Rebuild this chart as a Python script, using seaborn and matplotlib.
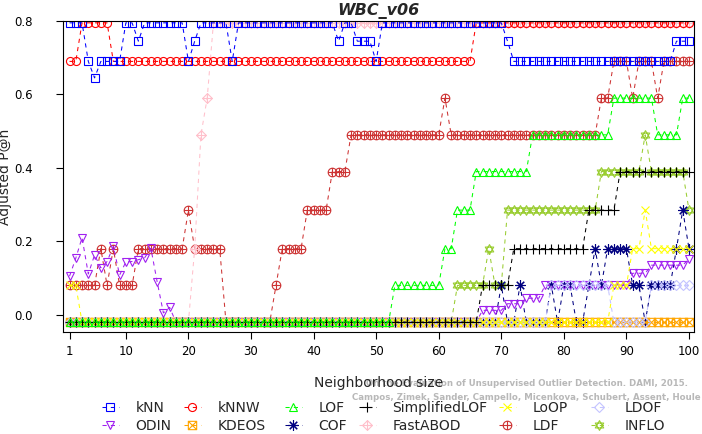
import matplotlib
matplotlib.use("Agg")
import matplotlib.pyplot as plt
from matplotlib.path import Path
import pandas as pd
import seaborn as sns

# neighborhood size k = 1..100
k = list(range(1, 101))

knn = [0.795, 0.795, 0.795, 0.69, 0.645, 0.69, 0.69, 0.69, 0.69, 0.795,
       0.795, 0.745, 0.795, 0.795, 0.795, 0.795, 0.795, 0.795, 0.795, 0.69,
       0.745, 0.795, 0.795, 0.795, 0.795, 0.795, 0.69, 0.795, 0.795, 0.795,
       0.795, 0.795, 0.795, 0.795, 0.795, 0.795, 0.795, 0.795, 0.795, 0.795,
       0.795, 0.795, 0.795, 0.745, 0.795, 0.795, 0.745, 0.745, 0.745, 0.69,
       0.795, 0.795, 0.795, 0.795, 0.795, 0.795, 0.795, 0.795, 0.795, 0.795,
       0.795, 0.795, 0.795, 0.795, 0.795, 0.795, 0.795, 0.795, 0.795, 0.795,
       0.745, 0.69, 0.69, 0.69, 0.69, 0.69, 0.69, 0.69, 0.69, 0.69,
       0.69, 0.69, 0.69, 0.69, 0.69, 0.69, 0.69, 0.69, 0.69, 0.69,
       0.69, 0.69, 0.69, 0.69, 0.69, 0.69, 0.69, 0.745, 0.745, 0.745]

knnw = [0.69, 0.69, 0.795, 0.795, 0.795, 0.795, 0.795, 0.69, 0.69, 0.69,
        0.69, 0.69, 0.69, 0.69, 0.69, 0.69, 0.69, 0.69, 0.69, 0.69,
        0.69, 0.69, 0.69, 0.69, 0.69, 0.69, 0.69, 0.69, 0.69, 0.69,
        0.69, 0.69, 0.69, 0.69, 0.69, 0.69, 0.69, 0.69, 0.69, 0.69,
        0.69, 0.69, 0.69, 0.69, 0.69, 0.69, 0.69, 0.69, 0.69, 0.69,
        0.69, 0.69, 0.69, 0.69, 0.69, 0.69, 0.69, 0.69, 0.69, 0.69,
        0.69, 0.69, 0.69, 0.69, 0.69, 0.795, 0.795, 0.795, 0.795, 0.795,
        0.795, 0.795, 0.795, 0.795, 0.795, 0.795, 0.795, 0.795, 0.795, 0.795,
        0.795, 0.795, 0.795, 0.795, 0.795, 0.795, 0.795, 0.795, 0.795, 0.795,
        0.795, 0.795, 0.795, 0.795, 0.795, 0.795, 0.795, 0.795, 0.795, 0.795]

lof = [-0.02, -0.02, -0.02, -0.02, -0.02, -0.02, -0.02, -0.02, -0.02, -0.02,
       -0.02, -0.02, -0.02, -0.02, -0.02, -0.02, -0.02, -0.02, -0.02, -0.02,
       -0.02, -0.02, -0.02, -0.02, -0.02, -0.02, -0.02, -0.02, -0.02, -0.02,
       -0.02, -0.02, -0.02, -0.02, -0.02, -0.02, -0.02, -0.02, -0.02, -0.02,
       -0.02, -0.02, -0.02, -0.02, -0.02, -0.02, -0.02, -0.02, -0.02, -0.02,
       -0.02, -0.02, 0.08, 0.08, 0.08, 0.08, 0.08, 0.08, 0.08, 0.08,
       0.18, 0.18, 0.285, 0.285, 0.285, 0.39, 0.39, 0.39, 0.39, 0.39,
       0.39, 0.39, 0.39, 0.39, 0.49, 0.49, 0.49, 0.49, 0.49, 0.49,
       0.49, 0.49, 0.49, 0.49, 0.49, 0.49, 0.49, 0.59, 0.59, 0.59,
       0.59, 0.59, 0.59, 0.59, 0.49, 0.49, 0.49, 0.49, 0.59, 0.59]

simplified_lof = [-0.02, -0.02, -0.02, -0.02, -0.02, -0.02, -0.02, -0.02, -0.02, -0.02,
                  -0.02, -0.02, -0.02, -0.02, -0.02, -0.02, -0.02, -0.02, -0.02, -0.02,
                  -0.02, -0.02, -0.02, -0.02, -0.02, -0.02, -0.02, -0.02, -0.02, -0.02,
                  -0.02, -0.02, -0.02, -0.02, -0.02, -0.02, -0.02, -0.02, -0.02, -0.02,
                  -0.02, -0.02, -0.02, -0.02, -0.02, -0.02, -0.02, -0.02, -0.02, -0.02,
                  -0.02, -0.02, -0.02, -0.02, -0.02, -0.02, -0.02, -0.02, -0.02, -0.02,
                  -0.02, -0.02, -0.02, -0.02, -0.02, -0.02, 0.08, 0.08, 0.08, 0.08,
                  0.08, 0.18, 0.18, 0.18, 0.18, 0.18, 0.18, 0.18, 0.18, 0.18,
                  0.18, 0.18, 0.18, 0.285, 0.285, 0.285, 0.285, 0.285, 0.39, 0.39,
                  0.39, 0.39, 0.39, 0.39, 0.39, 0.39, 0.39, 0.39, 0.39, 0.39]

loop = [0.08, 0.08, -0.02, -0.02, -0.02, -0.02, -0.02, -0.02, -0.02, -0.02,
        -0.02, -0.02, -0.02, -0.02, -0.02, -0.02, -0.02, -0.02, -0.02, -0.02,
        -0.02, -0.02, -0.02, -0.02, -0.02, -0.02, -0.02, -0.02, -0.02, -0.02,
        -0.02, -0.02, -0.02, -0.02, -0.02, -0.02, -0.02, -0.02, -0.02, -0.02,
        -0.02, -0.02, -0.02, -0.02, -0.02, -0.02, -0.02, -0.02, -0.02, -0.02,
        -0.02, -0.02, -0.02, -0.02, -0.02, -0.02, -0.02, -0.02, -0.02, -0.02,
        -0.02, -0.02, -0.02, -0.02, -0.02, -0.02, -0.02, -0.02, -0.02, -0.02,
        -0.02, -0.02, -0.02, -0.02, -0.02, -0.02, -0.02, -0.02, -0.02, -0.02,
        -0.02, -0.02, -0.02, -0.02, -0.02, -0.02, -0.02, 0.08, 0.08, 0.08,
        0.18, 0.18, 0.285, 0.18, 0.18, 0.18, 0.18, 0.18, 0.18, 0.18]

ldof = [-0.02, -0.02, -0.02, -0.02, -0.02, -0.02, -0.02, -0.02, -0.02, -0.02,
        -0.02, -0.02, -0.02, -0.02, -0.02, -0.02, -0.02, -0.02, -0.02, -0.02,
        -0.02, -0.02, -0.02, -0.02, -0.02, -0.02, -0.02, -0.02, -0.02, -0.02,
        -0.02, -0.02, -0.02, -0.02, -0.02, -0.02, -0.02, -0.02, -0.02, -0.02,
        -0.02, -0.02, -0.02, -0.02, -0.02, -0.02, -0.02, -0.02, -0.02, -0.02,
        -0.02, -0.02, -0.02, -0.02, -0.02, -0.02, -0.02, -0.02, -0.02, -0.02,
        -0.02, -0.02, -0.02, -0.02, -0.02, -0.02, -0.02, -0.02, -0.02, -0.02,
        -0.02, -0.02, -0.02, -0.02, -0.02, -0.02, -0.02, 0.08, 0.08, 0.08,
        0.08, 0.08, 0.08, 0.08, 0.08, 0.08, 0.08, -0.02, -0.02, -0.02,
        -0.02, -0.02, -0.02, 0.08, 0.08, 0.08, 0.08, 0.08, 0.08, 0.08]

odin = [0.105, 0.154, 0.21, 0.111, 0.163, 0.128, 0.145, 0.186, 0.108, 0.144,
        0.145, 0.15, 0.155, 0.181, 0.09, 0.005, 0.02, -0.02, -0.02, -0.02,
        -0.02, -0.02, -0.02, -0.02, -0.02, -0.02, -0.02, -0.02, -0.02, -0.02,
        -0.02, -0.02, -0.02, -0.02, -0.02, -0.02, -0.02, -0.02, -0.02, -0.02,
        -0.02, -0.02, -0.02, -0.02, -0.02, -0.02, -0.02, -0.02, -0.02, -0.02,
        -0.02, -0.02, -0.02, -0.02, -0.02, -0.02, -0.02, -0.02, -0.02, -0.02,
        -0.02, -0.02, -0.02, -0.02, -0.02, -0.02, 0.012, 0.012, 0.012, 0.012,
        0.03, 0.03, 0.03, 0.045, 0.045, 0.045, 0.08, 0.08, 0.08, 0.08,
        0.08, 0.08, 0.08, 0.08, 0.08, 0.08, 0.08, 0.08, 0.08, 0.08,
        0.113, 0.113, 0.113, 0.135, 0.135, 0.135, 0.135, 0.135, 0.135, 0.152]

kdeos = [-0.02, -0.02, -0.02, -0.02, -0.02, -0.02, -0.02, -0.02, -0.02, -0.02,
         -0.02, -0.02, -0.02, -0.02, -0.02, -0.02, -0.02, -0.02, -0.02, -0.02,
         -0.02, -0.02, -0.02, -0.02, -0.02, -0.02, -0.02, -0.02, -0.02, -0.02,
         -0.02, -0.02, -0.02, -0.02, -0.02, -0.02, -0.02, -0.02, -0.02, -0.02,
         -0.02, -0.02, -0.02, -0.02, -0.02, -0.02, -0.02, -0.02, -0.02, -0.02,
         -0.02, -0.02, -0.02, -0.02, -0.02, -0.02, -0.02, -0.02, -0.02, -0.02,
         -0.02, -0.02, -0.02, -0.02, -0.02, -0.02, -0.02, -0.02, -0.02, -0.02,
         -0.02, -0.02, -0.02, -0.02, -0.02, -0.02, -0.02, -0.02, -0.02, -0.02,
         -0.02, -0.02, -0.02, -0.02, -0.02, -0.02, -0.02, -0.02, -0.02, -0.02,
         -0.02, -0.02, -0.02, -0.02, -0.02, -0.02, -0.02, -0.02, -0.02, -0.02]

cof = [-0.02, -0.02, -0.02, -0.02, -0.02, -0.02, -0.02, -0.02, -0.02, -0.02,
       -0.02, -0.02, -0.02, -0.02, -0.02, -0.02, -0.02, -0.02, -0.02, -0.02,
       -0.02, -0.02, -0.02, -0.02, -0.02, -0.02, -0.02, -0.02, -0.02, -0.02,
       -0.02, -0.02, -0.02, -0.02, -0.02, -0.02, -0.02, -0.02, -0.02, -0.02,
       -0.02, -0.02, -0.02, -0.02, -0.02, -0.02, -0.02, -0.02, -0.02, -0.02,
       -0.02, -0.02, -0.02, -0.02, -0.02, -0.02, -0.02, -0.02, -0.02, -0.02,
       -0.02, -0.02, -0.02, -0.02, -0.02, -0.02, -0.02, -0.02, -0.02, 0.08,
       -0.02, -0.02, 0.08, -0.02, -0.02, -0.02, -0.02, 0.08, -0.02, 0.08,
       0.08, -0.02, -0.02, 0.08, 0.18, 0.08, 0.18, 0.18, 0.18, 0.18,
       0.08, 0.08, -0.02, 0.08, 0.08, 0.08, 0.08, 0.18, 0.285, 0.18]

fastabod = [-0.02, -0.02, -0.02, -0.02, -0.02, -0.02, -0.02, -0.02, -0.02, -0.02,
            -0.02, -0.02, -0.02, -0.02, -0.02, -0.02, -0.02, -0.02, -0.02, -0.02,
            0.18, 0.49, 0.59, 0.795, 0.795, 0.795, 0.795, 0.795, 0.795, 0.795,
            0.795, 0.795, 0.795, 0.795, 0.795, 0.795, 0.795, 0.795, 0.795, 0.795,
            0.795, 0.795, 0.795, 0.795, 0.795, 0.795, 0.795, 0.795, 0.795, 0.795,
            0.795, 0.795, 0.795, 0.795, 0.795, 0.795, 0.795, 0.795, 0.795, 0.795,
            0.795, 0.795, 0.795, 0.795, 0.795, 0.795, 0.795, 0.795, 0.795, 0.795,
            0.795, 0.795, 0.795, 0.795, 0.795, 0.795, 0.795, 0.795, 0.795, 0.795,
            0.795, 0.795, 0.795, 0.795, 0.795, 0.795, 0.795, 0.795, 0.795, 0.795,
            0.795, 0.795, 0.795, 0.795, 0.795, 0.795, 0.795, 0.795, 0.795, 0.795]

ldf = [0.08, 0.08, 0.08, 0.08, 0.08, 0.18, 0.08, 0.18, 0.08, 0.08,
       0.08, 0.18, 0.18, 0.18, 0.18, 0.18, 0.18, 0.18, 0.18, 0.285,
       0.18, 0.18, 0.18, 0.18, 0.18, -0.02, -0.02, -0.02, -0.02, -0.02,
       -0.02, -0.02, -0.02, 0.08, 0.18, 0.18, 0.18, 0.18, 0.285, 0.285,
       0.285, 0.285, 0.39, 0.39, 0.39, 0.49, 0.49, 0.49, 0.49, 0.49,
       0.49, 0.49, 0.49, 0.49, 0.49, 0.49, 0.49, 0.49, 0.49, 0.49,
       0.59, 0.49, 0.49, 0.49, 0.49, 0.49, 0.49, 0.49, 0.49, 0.49,
       0.49, 0.49, 0.49, 0.49, 0.49, 0.49, 0.49, 0.49, 0.49, 0.49,
       0.49, 0.49, 0.49, 0.49, 0.49, 0.59, 0.59, 0.69, 0.69, 0.69,
       0.59, 0.69, 0.69, 0.69, 0.59, 0.69, 0.69, 0.69, 0.69, 0.69]

inflo = [-0.02, -0.02, -0.02, -0.02, -0.02, -0.02, -0.02, -0.02, -0.02, -0.02,
         -0.02, -0.02, -0.02, -0.02, -0.02, -0.02, -0.02, -0.02, -0.02, -0.02,
         -0.02, -0.02, -0.02, -0.02, -0.02, -0.02, -0.02, -0.02, -0.02, -0.02,
         -0.02, -0.02, -0.02, -0.02, -0.02, -0.02, -0.02, -0.02, -0.02, -0.02,
         -0.02, -0.02, -0.02, -0.02, -0.02, -0.02, -0.02, -0.02, -0.02, -0.02,
         -0.02, -0.02, -0.02, -0.02, -0.02, -0.02, -0.02, -0.02, -0.02, -0.02,
         -0.02, -0.02, 0.08, 0.08, 0.08, 0.08, 0.08, 0.18, 0.08, 0.08,
         0.285, 0.285, 0.285, 0.285, 0.285, 0.285, 0.285, 0.285, 0.285, 0.285,
         0.285, 0.285, 0.285, 0.285, 0.285, 0.39, 0.39, 0.39, 0.39, 0.39,
         0.39, 0.39, 0.49, 0.39, 0.39, 0.39, 0.39, 0.39, 0.39, 0.285]

xtick_labels = ["1", "10", "20", "30", "40", "50", "60", "70", "80", "90", "100"]
ytick_labels = ["0.0", "0.2", "0.4", "0.6", "0.8"]

# marker shapes similar to R's pch symbols
M, L, C = Path.MOVETO, Path.LINETO, Path.CLOSEPOLY
plus = Path([(-1, 0), (1, 0), (0, -1), (0, 1)], [M, L, M, L])
cross = Path([(-1, -1), (1, 1), (-1, 1), (1, -1)], [M, L, M, L])
square = Path([(-1, -1), (1, -1), (1, 1), (-1, 1), (-1, -1)], [M, L, L, L, C])
diamond = Path([(0, -1), (1, 0), (0, 1), (-1, 0), (0, -1)], [M, L, L, L, C])
tri_up = Path([(0, 1), (-0.866, -0.5), (0.866, -0.5), (0, 1)], [M, L, L, C])
tri_dn = Path([(0, -1), (-0.866, 0.5), (0.866, 0.5), (0, -1)], [M, L, L, C])
square_x = Path.make_compound_path(square, cross)
circle_plus = Path.make_compound_path(Path.unit_circle(), plus)
diamond_plus = Path.make_compound_path(diamond, plus)
hexagram = Path.make_compound_path(tri_up, tri_dn)

# name, values, color, marker, marker size
series = [
    ("kNN", knn, "#0000FF", "s", 5.2),
    ("kNNW", knnw, "#FF0000", "o", 5.8),
    ("LOF", lof, "#00FF00", "^", 6.2),
    ("SimplifiedLOF", simplified_lof, "#000000", "+", 7.5),
    ("LoOP", loop, "#FFFF00", "x", 5.5),
    ("LDOF", ldof, "#C4C4FF", "D", 5.0),
    ("ODIN", odin, "#A020F0", "v", 6.2),
    ("KDEOS", kdeos, "#FFA500", square_x, 6.0),
    ("COF", cof, "#000080", (8, 2, 0), 7.5),
    ("FastABOD", fastabod, "#FFC0CB", diamond_plus, 7.0),
    ("LDF", ldf, "#CD3333", circle_plus, 6.2),
    ("INFLO", inflo, "#9ACD32", hexagram, 7.0),
]

df = pd.DataFrame({"k": k})
for name, vals, *_ in series:
    df[name] = vals
long_df = df.melt(id_vars="k", var_name="method", value_name="p")

sns.set_style("ticks")
plt.rcParams["font.family"] = ["DejaVu Sans"]

fig = plt.figure(figsize=(7.02, 4.34), dpi=100)
ax = fig.add_axes([0.0897, 0.235, 0.8989, 0.7166])

handles = {}
# R draws them in this order: later ones sit on top
for name, vals, color, marker, ms in reversed(series):
    sub = long_df[long_df["method"] == name]
    sns.lineplot(data=sub, x="k", y="p", ax=ax, color=color, marker=marker,
                 markersize=ms, markerfacecolor="none", markeredgecolor=color,
                 markeredgewidth=0.8, linewidth=0.75, linestyle=(0, (4, 4)),
                 estimator=None, errorbar=None, sort=False, legend=False)
    handles[name] = ax.lines[-1]

ax.set_xlim(-0.05, 100.8)
ax.set_ylim(-0.047, 0.80)
ax.set_xticks([int(t) for t in xtick_labels])
ax.set_xticklabels(xtick_labels)
ax.set_yticks([float(t) for t in ytick_labels])
ax.set_yticklabels(ytick_labels)
ax.tick_params(axis="both", direction="out", length=5, width=0.8, colors="black", labelsize=8.5)
ax.tick_params(axis="x", pad=4)
ax.tick_params(axis="y", pad=16.5)
for sp in ax.spines.values():
    sp.set_color("black")
    sp.set_linewidth(0.8)

ax.set_title("WBC_v06", fontsize=11.5, fontweight="bold", fontstyle="italic", pad=4)
ax.set_xlabel("Neighborhood size", fontsize=10)
ax.set_ylabel("Adjusted P@n", fontsize=10)
ax.xaxis.set_label_coords(0.5, -0.14)
ax.yaxis.set_label_coords(-0.08, 0.5)

# watermark
fig.text(688 / 702, 1 - 384 / 434,
         "On the Evaluation of Unsupervised Outlier Detection. DAMI, 2015.",
         ha="right", va="center", fontsize=6.2, fontweight="bold", color="#b8b8b8", zorder=-1)
fig.text(701 / 702, 1 - 397 / 434,
         "Campos, Zimek, Sander, Campello, Micenkova, Schubert, Assent, Houle",
         ha="right", va="center", fontsize=6.2, fontweight="bold", color="#b8b8b8", zorder=-1)

# legend: six columns of two entries each
columns = [("kNN", "ODIN"), ("kNNW", "KDEOS"), ("LOF", "COF"),
           ("SimplifiedLOF", "FastABOD"), ("LoOP", "LDF"), ("LDOF", "INFLO")]
label_x = [135, 217, 318, 392, 532, 624]
for (a, b), lx in zip(columns, label_x):
    fig.legend(handles=[handles[a], handles[b]], labels=[a, b], loc="upper left",
               bbox_to_anchor=((lx - 33) / 702, 1 - 401 / 434), frameon=False,
               fontsize=10, handlelength=1.2, handletextpad=1.2, borderpad=0,
               borderaxespad=0, labelspacing=0.3, numpoints=1)

fig.savefig("out.png", dpi=100)
